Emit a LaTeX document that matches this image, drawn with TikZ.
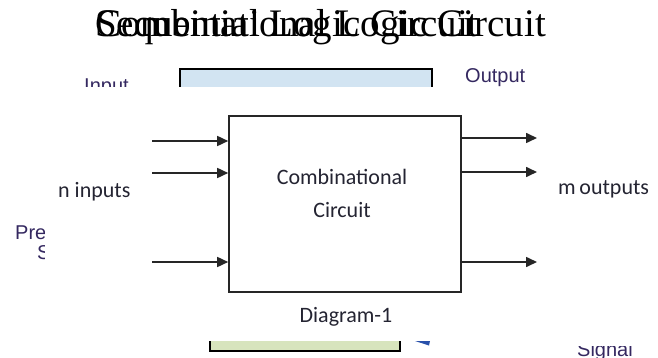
\documentclass[tikz,border=0pt]{standalone}
\usepackage{fontspec}
\setmainfont{Carlito}
\newfontfamily\titlefont{Liberation Serif}
\newfontfamily\backfont{Liberation Sans}
\definecolor{bluebox}{RGB}{210,228,242}
\definecolor{greenbox}{RGB}{215,228,189}
\definecolor{backtext}{RGB}{52,40,96}
\definecolor{fronttext}{RGB}{36,36,50}
\definecolor{signalblue}{RGB}{40,80,170}
\tikzstyle{signal} = [-{Triangle[length=11pt,width=10pt]}, line width=1.6pt, color=black!85]
\tikzstyle{backlabel} = [font=\backfont\fontsize{20}{24}\selectfont, color=backtext, inner sep=0pt]
\tikzstyle{frontlabel} = [font=\fontsize{22}{26}\selectfont, color=fronttext, inner sep=0pt]
\usetikzlibrary{arrows.meta}
\usetikzlibrary{positioning}

\begin{document}
\begin{tikzpicture}[x=1pt, y=-1pt,
                      title node/.style={font=\titlefont\fontsize{39}{40}\selectfont, anchor=base west, inner sep=0pt},
                      main node/.style={draw=black!85, line width=1.6pt, minimum width=232pt, minimum height=176pt, inner sep=0pt}]
  \useasboundingbox (0,0) rectangle (658,358);

  % titles, one over the other
  \node[title node] (seq) at (95,37) {Sequential Logic Circuit};
  \node[title node] (comb) at (95,37) {Combinational Logic Circuit};

  % slide behind
  \node[backlabel, anchor=base west] (inlab) at (84,93) {Input};
  \draw[fill=bluebox, line width=1.6pt] (180,110) |- (432,69) -- (432,110);
  \node[backlabel, anchor=base west] (outlab) at (465,83) {Output};
  \node[backlabel, anchor=base west] (prelab) at (15,239) {Pre};
  \node[backlabel, anchor=base west] (slab) at (37,259) {S};
  \draw[fill=greenbox, line width=1.6pt] (210,320) |- (400,351) -- (400,320);
  \fill[signalblue] (412,340) -- (430,341) -- (429,345.5) -- cycle;
  \node[backlabel, anchor=base west] (siglab) at (577,356) {Signal};

  % picture in front
  \fill[white] (45,87) rectangle (658,341);
  \fill[white] (540,341) rectangle (658,346);

  \node[main node] (cc) at (345,204) {};
  \node[frontlabel, anchor=base] (cc1) at (342,185) {Combinational};
  \node[frontlabel, anchor=base] (cc2) at (342,217) {Circuit};
  \node[frontlabel, anchor=base] (diag) at (346,322) {Diagram-1};

  \coordinate (i1) at (152,141);
  \coordinate (i2) at (152,173);
  \coordinate (i3) at (152,262);
  \coordinate (o1) at (537,138);
  \coordinate (o2) at (537,172);
  \coordinate (o3) at (537,262);
  \node[frontlabel, anchor=base west] (nin) at (58,197) {n inputs};
  \node[frontlabel, anchor=base west] (mout) at (558,194) {m\,outputs};

  \path[signal]
  (i1) edge (cc.west |- i1)
  (i2) edge (cc.west |- i2)
  (i3) edge (cc.west |- i3)

  (cc.east |- o1) edge (o1)
  (cc.east |- o2) edge (o2)
  (cc.east |- o3) edge (o3)
  ;
\end{tikzpicture}
\end{document}
